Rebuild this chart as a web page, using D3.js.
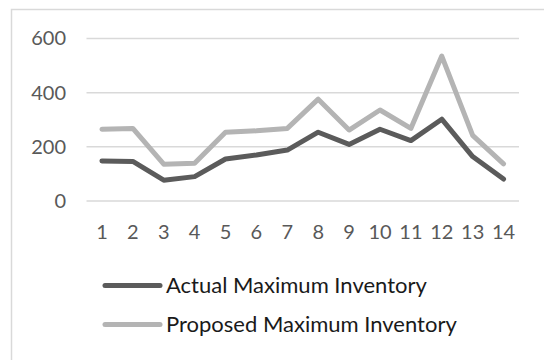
<!DOCTYPE html>
<html><head><meta charset="utf-8">
<script src="https://cdn.jsdelivr.net/npm/d3@7"></script>
<style>body{margin:0;background:#fff}svg{display:block}</style>
</head><body>
<script>
const categories = ["1","2","3","4","5","6","7","8","9","10","11","12","13","14"];
const actual   = [148, 146, 77, 90, 155, 170, 188, 254, 209, 265, 223, 302, 164, 81];
const proposed = [265, 268, 136, 139, 254, 259, 268, 376, 262, 336, 268, 535, 242, 137];
const yTicks = [0, 200, 400, 600];
const seriesNames = ["Actual Maximum Inventory", "Proposed Maximum Inventory"];
const seriesColors = ["#5b5b5b", "#b4b4b4"];

const W = 544, H = 360;
const FONT = "Lato, 'Open Sans', sans-serif";
const svg = d3.select("body").append("svg").attr("width", W).attr("height", H);

// outer chart border (extends beyond the visible frame to right/bottom)
svg.append("rect").attr("x", 11.5).attr("y", 9.5).attr("width", 600).attr("height", 400)
  .attr("fill", "#fff").attr("stroke", "#d9d9d9").attr("stroke-width", 1.5);

const x = d3.scaleBand().domain(categories).range([86.5, 519]);
const y = d3.scaleLinear().domain([0, 600]).range([201, 38.5]);

// gridlines
svg.append("g").selectAll("line").data(yTicks).join("line")
  .attr("x1", 86.5).attr("x2", 519)
  .attr("y1", d => y(d)).attr("y2", d => y(d))
  .attr("stroke", "#d9d9d9").attr("stroke-width", 1.5);

// y axis labels
const yAxis = svg.append("g").attr("transform", "translate(66,0)")
  .call(d3.axisLeft(y).tickValues(yTicks).tickSize(0).tickPadding(0));
yAxis.select(".domain").remove();
yAxis.selectAll("text").attr("font-family", FONT).attr("font-size", 20).attr("fill", "#595959");

// x axis labels
const xAxis = svg.append("g").attr("transform", "translate(0,225)")
  .call(d3.axisBottom(x).tickSize(0).tickPadding(0));
xAxis.select(".domain").remove();
xAxis.selectAll("text").attr("font-family", FONT).attr("font-size", 20).attr("fill", "#595959");

const line = d3.line().x((d, i) => x(categories[i]) + x.bandwidth() / 2).y(d => y(d));
[proposed, actual].forEach((s, k) => {
  const idx = k === 0 ? 1 : 0;
  svg.append("path").datum(s).attr("d", line)
    .attr("fill", "none").attr("stroke", seriesColors[idx]).attr("stroke-width", 5)
    .attr("stroke-linejoin", "round").attr("stroke-linecap", "round");
});

// legend
const leg = svg.append("g");
const legY = [285.5, 324.5];
seriesNames.forEach((n, i) => {
  leg.append("line").attr("x1", 105).attr("x2", 160).attr("y1", legY[i]).attr("y2", legY[i])
    .attr("stroke", seriesColors[i]).attr("stroke-width", 5).attr("stroke-linecap", "round");
  leg.append("text").attr("x", 166).attr("y", legY[i]).attr("dy", "0.35em")
    .attr("font-family", FONT).attr("font-size", 22).attr("fill", "#1a1a1a").text(n);
});
</script>
</body></html>
